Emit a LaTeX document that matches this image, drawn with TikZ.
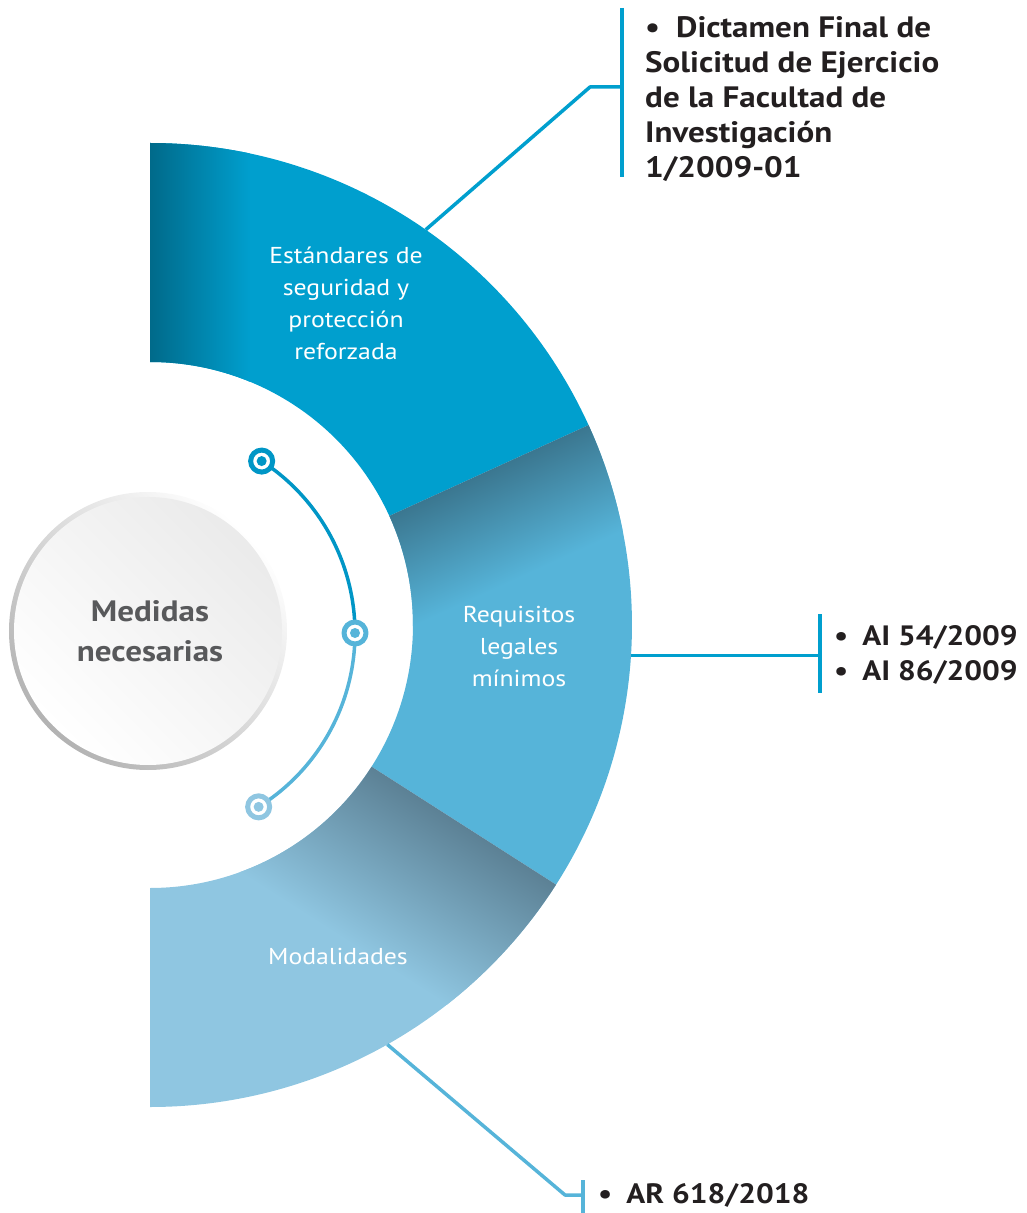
\documentclass[tikz,border=0pt]{standalone}
\usepackage{fontspec}
\setmainfont{PT Sans}[FakeStretch=1.12]
\definecolor{segA}{HTML}{009FCE}
\definecolor{segB}{HTML}{56B4D9}
\definecolor{segC}{HTML}{8FC6E1}
\definecolor{segAdark}{HTML}{006A8A}
\definecolor{shadeB}{HTML}{3B7790}
\definecolor{shadeC}{HTML}{5C8195}
\definecolor{arcA}{HTML}{0096C6}
\definecolor{txtdark}{HTML}{231F20}
\definecolor{txtgray}{HTML}{58595B}
\begin{document}
\begin{tikzpicture}[x=1pt,y=1pt,line join=round,
	seglabel/.style={text=white,align=center,inner sep=0pt,font=\fontsize{23}{32}\selectfont},
	reflist/.style={text=txtdark,align=left,anchor=north west,inner sep=0pt,font=\bfseries\fontsize{29.5}{35}\selectfont},
	callout/.style={line width=3.5pt},
	ringdot/.style={circle,draw=#1,line width=5pt,fill=white,minimum size=22pt,inner sep=0pt}]
	\def \rin{263}
	\def \rout{482}
	\def \aone{24.5}
	\def \atwo{-32.6}
	\useasboundingbox (-150,-588) rectangle (876,625);
	% half ring
	\fill[segA] (90:\rout) arc (90:\aone:\rout) -- (\aone:\rin) arc (\aone:90:\rin) -- cycle;
	\fill[segB] (\aone:\rout) arc (\aone:\atwo:\rout) -- (\atwo:\rin) arc (\atwo:\aone:\rin) -- cycle;
	\fill[segC] (\atwo:\rout) arc (\atwo:-90:\rout) -- (-90:\rin) arc (-90:\atwo:\rin) -- cycle;
	\begin{scope}
	\clip (90:\rout) arc (90:\aone:\rout) -- (\aone:\rin) arc (\aone:90:\rin) -- cycle;
	\shade[left color=segAdark,right color=segA] (0,0) rectangle (100,\rout);
	\end{scope}
	\begin{scope}
	\clip (\aone:\rout) arc (\aone:\atwo:\rout) -- (\atwo:\rin) arc (\atwo:\aone:\rin) -- cycle;
	\begin{scope}[transform canvas={rotate=\aone}]
	\shade[top color=shadeB,bottom color=segB] (0,-110) rectangle (520,0);
	\end{scope}
	\end{scope}
	\begin{scope}
	\clip (\atwo:\rout) arc (\atwo:-90:\rout) -- (-90:\rin) arc (-90:\atwo:\rin) -- cycle;
	\begin{scope}[transform canvas={rotate=\atwo}]
	\shade[top color=shadeC,bottom color=segC] (0,-160) rectangle (520,0);
	\end{scope}
	\end{scope}
	\node[seglabel] (estandares) at (196,322) {Estándares de\\seguridad y\\protección\\reforzada};
	\node[seglabel] (requisitos) at (369,-21) {Requisitos\\legales\\mínimos};
	\node[seglabel] (modalidades) at (188,-331) {Modalidades};
	% centre circle
	\shade[top color=white,bottom color=gray!60,shading angle=-45] (-2,-6) circle (139);
	\shade[top color=gray!16,bottom color=white,shading angle=-45] (-2,-6) circle (134);
	\node[text=txtgray,align=center,font=\bfseries\fontsize{29.5}{40}\selectfont] (medidas) at (0,-6) {Medidas\\necesarias};
	% arc with dots
	\begin{scope}[shift={(0,-8)}]
	\draw[arcA,line width=3.5pt] (57:205) arc (57:0:205);
	\draw[segB,line width=3.5pt] (0:205) arc (0:-58:205);
	\node[ringdot=arcA] (dtop) at (57:205) {};
	\node[ringdot=segB] (dmid) at (0:205) {};
	\node[ringdot=segC] (dbot) at (-58:205) {};
	\end{scope}
	\fill[arcA] (dtop.center) circle (5);
	\fill[segB] (dmid.center) circle (5);
	\fill[segC] (dbot.center) circle (5);
	% callouts
	\coordinate (ca) at (55.1:\rout);
	\coordinate (cb) at (-3.6:\rout);
	\coordinate (cc) at (-60.5:\rout);
	\coordinate (bartopA) at (472,617);
	\coordinate (barbotA) at (472,448);
	\coordinate (bartopB) at (670,11);
	\coordinate (barbotB) at (670,-68);
	\coordinate (bartopC) at (433,-555);
	\coordinate (barbotC) at (433,-588);
	\draw[segA,callout] (ca) -- (440,538) -- (bartopA|-440,538);
	\draw[segA,callout] (bartopA) -- (barbotA);
	\draw[segA,callout] (cb) -- (bartopB|-cb);
	\draw[segA,callout] (bartopB) -- (barbotB);
	\draw[segB,callout] (cc) -- (415,-570) -- (bartopC|-415,-570);
	\draw[segB,callout] (bartopC) -- (barbotC);
	\node[reflist] (dictamen) at (495,609) {•\hspace{16pt}Dictamen Final de\\Solicitud de Ejercicio\\de la Facultad de\\Investigación\\1/2009-01};
	\node[reflist,font=\bfseries\fontsize{28}{35}\selectfont] (acuerdos) at (684,0) {•\hspace{14pt}AI 54/2009\\•\hspace{14pt}AI 86/2009};
	\node[reflist,font=\bfseries\fontsize{28}{35}\selectfont] (resolucion) at (448,-558) {•\hspace{14pt}AR 618/2018};
\end{tikzpicture}
\end{document}
